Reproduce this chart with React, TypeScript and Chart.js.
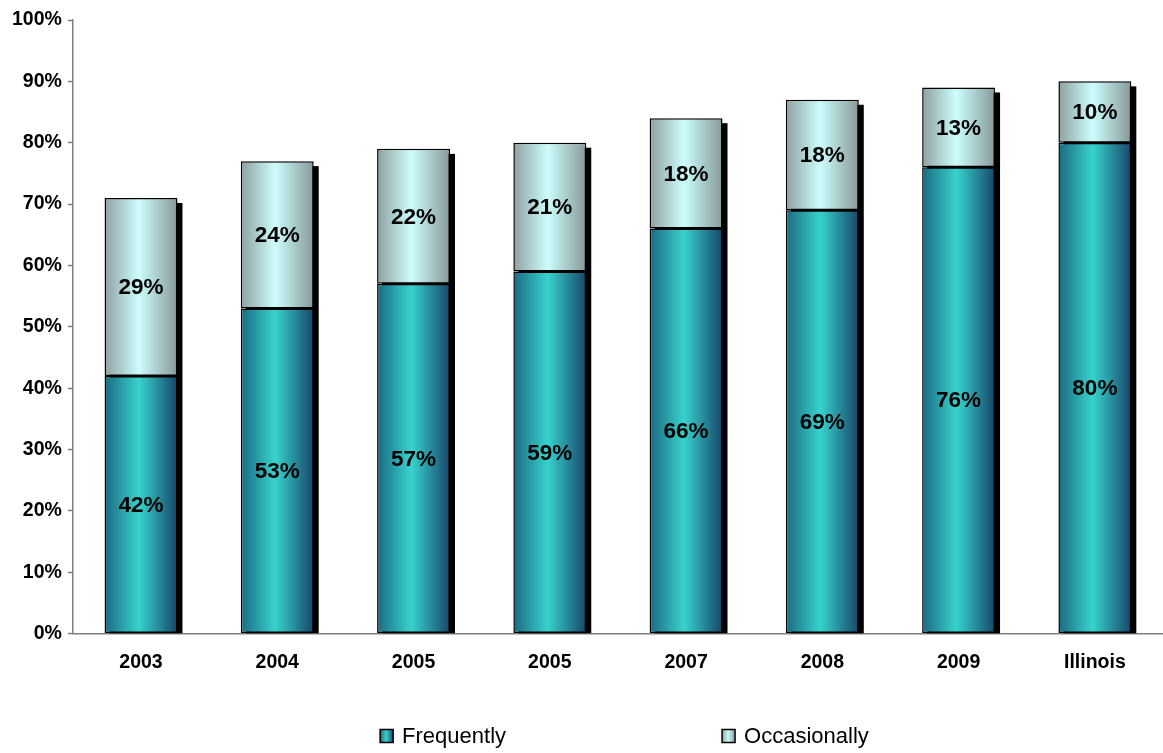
import React, { useEffect, useRef } from "react";
import { Chart, registerables } from "chart.js";

Chart.register(...registerables);

const categories = ["2003", "2004", "2005", "2005", "2007", "2008", "2009", "Illinois"];
const frequently = [42, 53, 57, 59, 66, 69, 76, 80];
const occasionally = [29, 24, 22, 21, 18, 18, 13, 10];
const seriesNames = ["Frequently", "Occasionally"];
const yTicks = [0, 10, 20, 30, 40, 50, 60, 70, 80, 90, 100];

const FONT = "Arial, 'Liberation Sans', sans-serif";
const BAR_PCT = 0.535;

const palettes = [
  { edgeL: "#1b6a82", mid: "#37d3cd", edgeR: "#17466a" },
  { edgeL: "#8fa0a0", mid: "#cdfdfd", edgeR: "#879999" },
];

function makeGrad(ctx: CanvasRenderingContext2D, x0: number, x1: number, p: any) {
  const g = ctx.createLinearGradient(x0, 0, x1, 0);
  g.addColorStop(0, p.edgeL);
  g.addColorStop(0.47, p.mid);
  g.addColorStop(1, p.edgeR);
  return g;
}

function barFill(pi: number) {
  return (c: any) => {
    const chart = c.chart;
    const xs = chart.scales && chart.scales.x;
    if (!xs || c.dataIndex === undefined || !chart.chartArea) return palettes[pi].mid;
    const cx = xs.getPixelForValue(c.dataIndex);
    const w = (xs.width / categories.length) * BAR_PCT;
    if (!isFinite(cx) || !isFinite(w) || w <= 0) return palettes[pi].mid;
    return makeGrad(chart.ctx, cx - w / 2, cx + w / 2, palettes[pi]);
  };
}

const shadowPlugin = {
  id: "shadowPlugin",
  beforeDatasetsDraw(chart: any) {
    const ctx = chart.ctx;
    const area = chart.chartArea;
    const top = chart.getDatasetMeta(chart.data.datasets.length - 1);
    ctx.save();
    ctx.beginPath();
    ctx.rect(area.left, area.top - 10, area.right - area.left + 10, area.bottom - area.top + 10);
    ctx.clip();
    ctx.fillStyle = "#000";
    const bottom = chart.scales.y.getPixelForValue(0);
    top.data.forEach((el: any) => {
      const { x, y, width } = el.getProps(["x", "y", "width"], true);
      ctx.fillRect(x - width / 2 + 5, y + 5, width, bottom - y - 5);
    });
    ctx.restore();
  },
};

const labelPlugin = {
  id: "labelPlugin",
  afterDatasetsDraw(chart: any) {
    const ctx = chart.ctx;
    ctx.save();
    ctx.font = `bold 22.5px ${FONT}`;
    ctx.fillStyle = "#000";
    ctx.textAlign = "center";
    ctx.textBaseline = "middle";
    chart.data.datasets.forEach((ds: any, di: number) => {
      const meta = chart.getDatasetMeta(di);
      meta.data.forEach((el: any, i: number) => {
        const { x, y, base } = el.getProps(["x", "y", "base"], true);
        ctx.fillText(Math.round(ds.data[i]) + "%", x, (y + base) / 2 + 1);
      });
    });
    ctx.restore();
  },
};

const legendPlugin = {
  id: "customLegend",
  afterDraw(chart: any) {
    const ctx = chart.ctx;
    ctx.save();
    ctx.font = `22px ${FONT}`;
    ctx.textBaseline = "middle";
    ctx.textAlign = "left";
    const box = 13;
    const gapText = 9;
    const gapItem = 216;
    const widths = seriesNames.map((n) => box + gapText + ctx.measureText(n).width);
    const total = widths.reduce((a, b) => a + b, 0) + gapItem * (widths.length - 1);
    const center = (chart.chartArea.left + chart.chartArea.right) / 2 + 6.5;
    let x = center - total / 2;
    const yc = 736;
    seriesNames.forEach((n, i) => {
      ctx.fillStyle = makeGrad(ctx, x, x + box, palettes[i]);
      ctx.fillRect(x, yc - box / 2, box, box);
      ctx.lineWidth = 1.5;
      ctx.strokeStyle = "#000";
      ctx.strokeRect(x, yc - box / 2, box, box);
      ctx.fillStyle = "#000";
      ctx.fillText(n, x + box + gapText, yc + 1);
      x += widths[i] + gapItem;
    });
    ctx.restore();
  },
};

export default function App() {
  const ref = useRef<HTMLCanvasElement | null>(null);
  useEffect(() => {
    if (!ref.current) return;
    const chart = new Chart(ref.current, {
      type: "bar",
      data: {
        labels: categories,
        datasets: [
          {
            label: seriesNames[0],
            data: frequently,
            backgroundColor: barFill(0),
            borderColor: "#000",
            borderWidth: 1.5,
            borderSkipped: false,
            barPercentage: BAR_PCT,
            categoryPercentage: 1,
          },
          {
            label: seriesNames[1],
            data: occasionally,
            backgroundColor: barFill(1),
            borderColor: "#000",
            borderWidth: 1.5,
            borderSkipped: false,
            barPercentage: BAR_PCT,
            categoryPercentage: 1,
          },
        ],
      },
      options: {
        animation: false,
        responsive: true,
        maintainAspectRatio: false,
        layout: { padding: { left: 6, right: 0, top: 20, bottom: 62 } },
        plugins: {
          legend: { display: false },
          tooltip: { enabled: false },
        },
        scales: {
          x: {
            stacked: true,
            grid: { display: true, drawOnChartArea: false, drawTicks: false },
            border: { display: true, color: "#808080", width: 1.5 },
            ticks: {
              color: "#000",
              padding: 17,
              font: { family: FONT, size: 19.5, weight: "bold" },
            },
          },
          y: {
            stacked: true,
            min: 0,
            max: 100,
            afterBuildTicks: (axis: any) => {
              axis.ticks = yTicks.map((v) => ({ value: v }));
            },
            grid: {
              display: true,
              drawOnChartArea: false,
              drawTicks: true,
              tickLength: 5,
              tickColor: "#808080",
              tickWidth: 1.5,
            },
            border: { display: true, color: "#808080", width: 1.5 },
            ticks: {
              color: "#000",
              padding: 6,
              font: { family: FONT, size: 19.5, weight: "bold" },
              callback: (v: any) => v + "%",
            },
          },
        },
      },
      plugins: [shadowPlugin, labelPlugin, legendPlugin],
    });
    return () => chart.destroy();
  }, []);
  return (
    <div style={{ position: "fixed", left: 0, top: 0, width: 1163, height: 753, background: "#fff" }}>
      <canvas ref={ref} />
    </div>
  );
}
